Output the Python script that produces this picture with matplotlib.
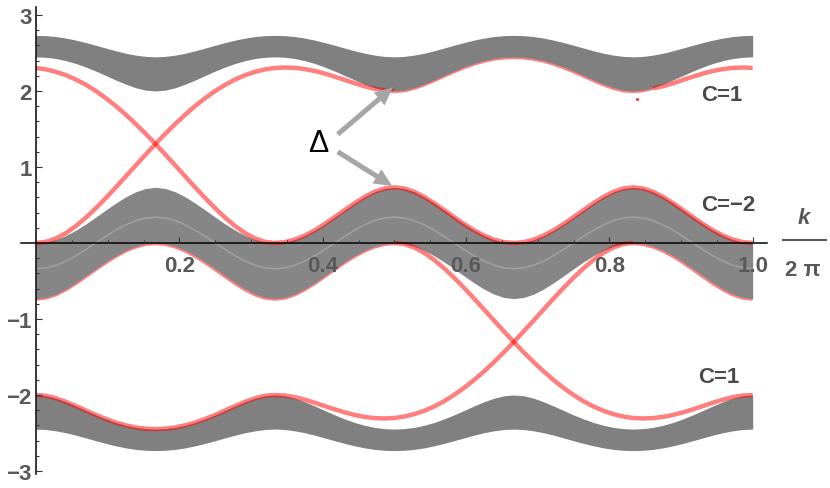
import numpy as np
import matplotlib
matplotlib.use("Agg")
import matplotlib.pyplot as plt
from matplotlib.lines import Line2D

# momentum grid (k / 2pi), 73 samples
k = np.linspace(0, 1, 73)

# bulk bands: upper / lower edge of each band (one line = half a period)
top_hi = [2.732, 2.728, 2.716, 2.696, 2.669, 2.637, 2.602, 2.565, 2.529, 2.497, 2.472, 2.455,
          2.449, 2.455, 2.472, 2.497, 2.529, 2.565, 2.602, 2.637, 2.669, 2.696, 2.716, 2.728,
          2.732, 2.728, 2.716, 2.696, 2.669, 2.637, 2.602, 2.565, 2.529, 2.497, 2.472, 2.455,
          2.449, 2.455, 2.472, 2.497, 2.529, 2.565, 2.602, 2.637, 2.669, 2.696, 2.716, 2.728,
          2.732, 2.728, 2.716, 2.696, 2.669, 2.637, 2.602, 2.565, 2.529, 2.497, 2.472, 2.455,
          2.449, 2.455, 2.472, 2.497, 2.529, 2.565, 2.602, 2.637, 2.669, 2.696, 2.716, 2.728,
          2.732]
top_lo = [2.449, 2.443, 2.427, 2.399, 2.362, 2.315, 2.262, 2.204, 2.145, 2.090, 2.043, 2.011,
          2.0, 2.011, 2.043, 2.090, 2.145, 2.204, 2.262, 2.315, 2.362, 2.399, 2.427, 2.443,
          2.449, 2.443, 2.427, 2.399, 2.362, 2.315, 2.262, 2.204, 2.145, 2.090, 2.043, 2.011,
          2.0, 2.011, 2.043, 2.090, 2.145, 2.204, 2.262, 2.315, 2.362, 2.399, 2.427, 2.443,
          2.449, 2.443, 2.427, 2.399, 2.362, 2.315, 2.262, 2.204, 2.145, 2.090, 2.043, 2.011,
          2.0, 2.011, 2.043, 2.090, 2.145, 2.204, 2.262, 2.315, 2.362, 2.399, 2.427, 2.443,
          2.449]
mid_hi = [0.0, 0.011, 0.045, 0.098, 0.168, 0.250, 0.340, 0.433, 0.524, 0.606, 0.673, 0.717,
          0.732, 0.717, 0.673, 0.606, 0.524, 0.433, 0.340, 0.250, 0.168, 0.098, 0.045, 0.011,
          0.0, 0.011, 0.045, 0.098, 0.168, 0.250, 0.340, 0.433, 0.524, 0.606, 0.673, 0.717,
          0.732, 0.717, 0.673, 0.606, 0.524, 0.433, 0.340, 0.250, 0.168, 0.098, 0.045, 0.011,
          0.0, 0.011, 0.045, 0.098, 0.168, 0.250, 0.340, 0.433, 0.524, 0.606, 0.673, 0.717,
          0.732, 0.717, 0.673, 0.606, 0.524, 0.433, 0.340, 0.250, 0.168, 0.098, 0.045, 0.011,
          0.0]
mid_lo = [-0.732, -0.717, -0.673, -0.606, -0.524, -0.433, -0.340, -0.250, -0.168, -0.098, -0.045, -0.011,
          0.0, -0.011, -0.045, -0.098, -0.168, -0.250, -0.340, -0.433, -0.524, -0.606, -0.673, -0.717,
          -0.732, -0.717, -0.673, -0.606, -0.524, -0.433, -0.340, -0.250, -0.168, -0.098, -0.045, -0.011,
          0.0, -0.011, -0.045, -0.098, -0.168, -0.250, -0.340, -0.433, -0.524, -0.606, -0.673, -0.717,
          -0.732, -0.717, -0.673, -0.606, -0.524, -0.433, -0.340, -0.250, -0.168, -0.098, -0.045, -0.011,
          0.0, -0.011, -0.045, -0.098, -0.168, -0.250, -0.340, -0.433, -0.524, -0.606, -0.673, -0.717,
          -0.732]
mid_line = [-0.340, -0.328, -0.293, -0.238, -0.168, -0.086, 0.0, 0.086, 0.168, 0.238, 0.293, 0.328,
            0.340, 0.328, 0.293, 0.238, 0.168, 0.086, 0.0, -0.086, -0.168, -0.238, -0.293, -0.328,
            -0.340, -0.328, -0.293, -0.238, -0.168, -0.086, 0.0, 0.086, 0.168, 0.238, 0.293, 0.328,
            0.340, 0.328, 0.293, 0.238, 0.168, 0.086, 0.0, -0.086, -0.168, -0.238, -0.293, -0.328,
            -0.340, -0.328, -0.293, -0.238, -0.168, -0.086, 0.0, 0.086, 0.168, 0.238, 0.293, 0.328,
            0.340, 0.328, 0.293, 0.238, 0.168, 0.086, 0.0, -0.086, -0.168, -0.238, -0.293, -0.328,
            -0.340]
bot_hi = [-2.0, -2.011, -2.043, -2.090, -2.145, -2.204, -2.262, -2.315, -2.362, -2.399, -2.427, -2.443,
          -2.449, -2.443, -2.427, -2.399, -2.362, -2.315, -2.262, -2.204, -2.145, -2.090, -2.043, -2.011,
          -2.0, -2.011, -2.043, -2.090, -2.145, -2.204, -2.262, -2.315, -2.362, -2.399, -2.427, -2.443,
          -2.449, -2.443, -2.427, -2.399, -2.362, -2.315, -2.262, -2.204, -2.145, -2.090, -2.043, -2.011,
          -2.0, -2.011, -2.043, -2.090, -2.145, -2.204, -2.262, -2.315, -2.362, -2.399, -2.427, -2.443,
          -2.449, -2.443, -2.427, -2.399, -2.362, -2.315, -2.262, -2.204, -2.145, -2.090, -2.043, -2.011,
          -2.0]
bot_lo = [-2.449, -2.455, -2.472, -2.497, -2.529, -2.565, -2.602, -2.637, -2.669, -2.696, -2.716, -2.728,
          -2.732, -2.728, -2.716, -2.696, -2.669, -2.637, -2.602, -2.565, -2.529, -2.497, -2.472, -2.455,
          -2.449, -2.455, -2.472, -2.497, -2.529, -2.565, -2.602, -2.637, -2.669, -2.696, -2.716, -2.728,
          -2.732, -2.728, -2.716, -2.696, -2.669, -2.637, -2.602, -2.565, -2.529, -2.497, -2.472, -2.455,
          -2.449, -2.455, -2.472, -2.497, -2.529, -2.565, -2.602, -2.637, -2.669, -2.696, -2.716, -2.728,
          -2.732, -2.728, -2.716, -2.696, -2.669, -2.637, -2.602, -2.565, -2.529, -2.497, -2.472, -2.455,
          -2.449]

# edge states inside the gaps: (first index on the k grid, values)
edge_a = (0, [2.303, 2.284, 2.252, 2.208, 2.151, 2.082, 2.0, 1.907, 1.804, 1.690, 1.568, 1.439,
              1.303, 1.162, 1.019, 0.874, 0.730, 0.590, 0.457, 0.333, 0.223, 0.130, 0.060, 0.015, 0.0])
edge_b = (0, [0.0, 0.015, 0.060, 0.130, 0.223, 0.333, 0.457, 0.590, 0.730, 0.874, 1.019, 1.162,
              1.303, 1.439, 1.568, 1.690, 1.804, 1.907, 2.0, 2.082, 2.151, 2.208, 2.252, 2.284,
              2.303, 2.309, 2.304, 2.288, 2.263, 2.229, 2.189, 2.146, 2.102, 2.062, 2.029, 2.008, 2.0])
edge_b2 = (62, [2.035, 2.062, 2.102, 2.146, 2.189, 2.229, 2.263, 2.288, 2.304, 2.309, 2.303])
edge_c = (36, [0.0, -0.015, -0.060, -0.130, -0.223, -0.333, -0.457, -0.590, -0.730, -0.874, -1.019, -1.162,
               -1.303, -1.439, -1.568, -1.690, -1.804, -1.907, -2.0, -2.082, -2.151, -2.208, -2.252, -2.284,
               -2.303, -2.309, -2.304, -2.288, -2.263, -2.229, -2.189, -2.146, -2.102, -2.062, -2.029, -2.008, -2.0])
edge_d = (24, [-2.0, -2.008, -2.029, -2.062, -2.102, -2.146, -2.189, -2.229, -2.263, -2.288, -2.304, -2.309,
               -2.303, -2.284, -2.252, -2.208, -2.151, -2.082, -2.0, -1.907, -1.804, -1.690, -1.568, -1.439,
               -1.303, -1.162, -1.019, -0.874, -0.730, -0.590, -0.457, -0.333, -0.223, -0.130, -0.060, -0.015, 0.0])

# edge states that run along a band edge: (band, first index, last index)
hug_over = [(mid_hi, 24, 72), (bot_hi, 0, 24)]
hug_under = [(top_lo, 36, 62), (mid_lo, 0, 36), (mid_lo, 60, 72)]

stray_k, stray_e = 0.838, 1.89

chern_labels = ["C=1", "C=\u22122", "C=1"]
chern_pos = [(0.957, 1.95), (0.966, 0.50), (0.952, -1.76)]

RED = (1, 0, 0, 0.5)
GRAY = "#808080"
TXT = "#595959"
plt.rcParams["font.family"] = ["Liberation Sans", "DejaVu Sans"]

fig = plt.figure(figsize=(8.3, 4.89), dpi=100)
ax = fig.add_axes([21 / 830, 14 / 489, 746 / 830, 467 / 489])
ax.set_xlim(-0.021, 1.02)
ax.set_ylim(-3.04, 3.105)

# red states hidden under the gray bands
for band, i0, i1 in hug_under:
    ax.plot(k[i0:i1 + 1], band[i0:i1 + 1], color=RED, lw=3.2, zorder=1, solid_capstyle="butt")

ax.fill_between(k, top_lo, top_hi, color=GRAY, lw=0, zorder=1.2)
ax.fill_between(k, mid_lo, mid_hi, color="#868686", lw=0, zorder=1.2)
ax.fill_between(k, bot_lo, bot_hi, color=GRAY, lw=0, zorder=1.2)
ax.plot(k, mid_line, color="#a0a0a0", lw=1.1, zorder=1.3)

for band, i0, i1 in hug_over:
    ax.plot(k[i0:i1 + 1], band[i0:i1 + 1], color=RED, lw=3.2, zorder=1.5, solid_capstyle="butt")
for i0, vals in [edge_a, edge_b, edge_b2, edge_c, edge_d]:
    ax.plot(k[i0:i0 + len(vals)], vals, color=RED, lw=3.2, zorder=1.6, solid_capstyle="butt")

ax.scatter([stray_k], [stray_e], s=5, color="red", alpha=0.8, lw=0, zorder=1.7)

# Delta annotation
ax.text(0.394, 1.32, "\u0394", fontsize=22, ha="center", va="center", zorder=3)
arrow = dict(arrowstyle="simple,head_length=0.65,head_width=0.6,tail_width=0.18",
             color="#a6a6a6", lw=0, shrinkA=0, shrinkB=0, mutation_scale=20)
ax.annotate("", xy=(0.498, 2.05), xytext=(0.421, 1.43), arrowprops=arrow, zorder=3)
ax.annotate("", xy=(0.497, 0.75), xytext=(0.421, 1.20), arrowprops=arrow, zorder=3)

for lab, (xx, yy) in zip(chern_labels, chern_pos):
    ax.text(xx, yy, lab, fontsize=16, fontweight="bold", color="#4a4a4a", ha="center", va="center", zorder=3)

# Mathematica-like axes through the origin
for s in ["top", "right"]:
    ax.spines[s].set_visible(False)
ax.spines["left"].set_position(("data", 0))
ax.spines["bottom"].set_position(("data", 0))
for s in ["left", "bottom"]:
    ax.spines[s].set_linewidth(1.1)
    ax.spines[s].set_zorder(2.5)
ax.set_axisbelow(False)

ax.set_xticks([0.2, 0.4, 0.6, 0.8, 1.0])
ax.set_xticklabels(["0.2", "0.4", "0.6", "0.8", "1.0"])
ax.set_xticks(np.arange(1, 20) * 0.05, minor=True)
ax.set_yticks([-3, -2, -1, 1, 2, 3])
ax.set_yticklabels(["\u22123", "\u22122", "\u22121", "1", "2", "3"])
ax.set_yticks([v / 5 for v in range(-15, 16) if v % 5], minor=True)
ax.tick_params(axis="both", which="both", direction="in", color="#333333", width=0.8,
               labelsize=16, labelcolor=TXT)
ax.tick_params(axis="both", which="major", length=4)
ax.tick_params(axis="both", which="minor", length=2.5)
ax.tick_params(axis="x", which="major", pad=9)
ax.tick_params(axis="y", which="major", pad=3)
for t in ax.get_xticklabels() + ax.get_yticklabels():
    t.set_fontweight("bold")

# axis label k / 2pi, drawn as a stacked fraction
fig.text(804 / 830, 1 - 218 / 489, "k", fontsize=16, fontweight="bold", fontstyle="italic",
         color=TXT, ha="center", va="center")
fig.add_artist(Line2D([783 / 830, 826 / 830], [1 - 241 / 489, 1 - 241 / 489], color=TXT, lw=1.5))
fig.text(803 / 830, 1 - 271 / 489, "2 \u03c0", fontsize=16, fontweight="bold",
         color=TXT, ha="center", va="center")

fig.savefig("out.png", dpi=100)
